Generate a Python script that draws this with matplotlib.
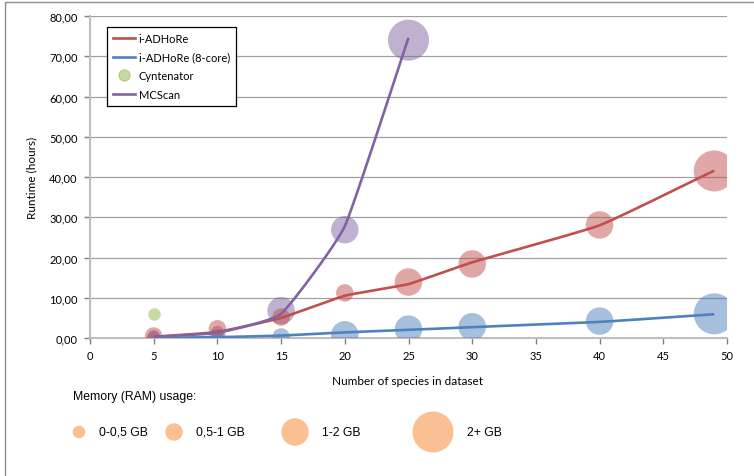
import numpy as np
import matplotlib.pyplot as plt
from matplotlib.lines import Line2D
from matplotlib.patches import Circle

# number of species per run
species = [5, 10, 15, 20, 25, 30, 40, 49]
species_mcscan = [5, 10, 15, 20, 25]
species_cyntenator = [5]

# measured runtimes in hours (bubble centres)
iadhore_runtime = [0.5, 2.3, 5.2, 11.2, 13.9, 18.4, 28.1, 41.5]
iadhore8_runtime = [0.1, 0.1, 0.25, 0.8, 2.2, 2.8, 4.2, 6.0]
mcscan_runtime = [0.4, 1.5, 6.8, 26.9, 74.0]
cyntenator_runtime = [6.0]

# smoothed trend lines
iadhore_trend = [0.3, 1.5, 5.0, 10.5, 13.4, 18.8, 28.0, 41.6]
iadhore8_trend = [0.0, 0.2, 0.6, 1.4, 2.0, 2.7, 4.0, 5.9]
mcscan_trend = [0.3, 1.3, 6.0, 27.8, 74.6]

# memory class of each run: 0 = 0-0,5 GB, 1 = 0,5-1 GB, 2 = 1-2 GB, 3 = 2+ GB
iadhore_mem = [1, 1, 1, 1, 2, 2, 2, 3]
iadhore8_mem = [0, 1, 1, 2, 2, 2, 2, 3]
mcscan_mem = [0, 0, 2, 2, 3]
cyntenator_mem = [0]

memory_labels = ['0-0,5 GB', '0,5-1 GB', '1-2 GB', '2+ GB']
y_ticks = [0, 10, 20, 30, 40, 50, 60, 70, 80]
x_ticks = [0, 5, 10, 15, 20, 25, 30, 35, 40, 45, 50]

W, H = 754, 477
DPI = 100
bubble_px = [12.5, 17.5, 27.5, 41]  # bubble diameter per memory class


def smooth(xs, ys, n=30, c=0.4):
    # cardinal spline through the points (gentle, like Excel's smoothed lines)
    p = np.column_stack([xs, ys]).astype(float)
    m = np.zeros_like(p)
    m[1:-1] = c * (p[2:] - p[:-2]) / 2
    m[0] = c * (p[1] - p[0])
    m[-1] = c * (p[-1] - p[-2])
    t = np.linspace(0, 1, n)[:, None]
    h00 = 2 * t ** 3 - 3 * t ** 2 + 1
    h10 = t ** 3 - 2 * t ** 2 + t
    h01 = -2 * t ** 3 + 3 * t ** 2
    h11 = t ** 3 - t ** 2
    out = [h00 * p[i] + h10 * m[i] + h01 * p[i + 1] + h11 * m[i + 1] for i in range(len(p) - 1)]
    out = np.vstack(out)
    return out[:, 0], out[:, 1]


def sizes(mem):
    return [(bubble_px[m] * 72 / DPI) ** 2 for m in mem]


red, blue, purple, green = '#C0504D', '#4F81BD', '#8064A2', '#9BBB59'
plt.rcParams['font.family'] = ['Lato', 'DejaVu Sans']

fig = plt.figure(figsize=(W / DPI, H / DPI), dpi=DPI)
ax = fig.add_axes([90 / W, 1 - 339 / H, (727 - 90) / W, (339 - 17) / H])

# bubbles
ax.scatter(species_cyntenator, cyntenator_runtime, s=sizes(cyntenator_mem), color=green, alpha=0.55, lw=0, zorder=3)
ax.scatter(species, iadhore8_runtime, s=sizes(iadhore8_mem), color=blue, alpha=0.5, lw=0, zorder=3)
ax.scatter(species_mcscan, mcscan_runtime, s=sizes(mcscan_mem), color=purple, alpha=0.5, lw=0, zorder=3)
ax.scatter(species, iadhore_runtime, s=sizes(iadhore_mem), color=red, alpha=0.5, lw=0, zorder=3)

# trend lines
for xs, ys, c in [(species, iadhore_trend, red), (species, iadhore8_trend, blue),
                  (species_mcscan, mcscan_trend, purple)]:
    sx, sy = smooth(xs, ys)
    ax.plot(sx, sy, color=c, lw=1.9, solid_capstyle='butt', zorder=4)

ax.set_xlim(0, 50)
ax.set_ylim(0, 80)
ax.set_xticks(x_ticks)
ax.set_yticks(y_ticks)
ax.set_yticklabels([f'{v:.2f}'.replace('.', ',') for v in y_ticks])
ax.tick_params(labelsize=8, colors='#7f7f7f', labelcolor='black', length=4, width=1)
ax.tick_params(axis='y', pad=5)
ax.tick_params(axis='x', pad=5)
ax.grid(axis='y', color='#a0a0a0', lw=0.9)
ax.set_axisbelow(True)
for side in ['top', 'right']:
    ax.spines[side].set_visible(False)
for side in ['left', 'bottom']:
    ax.spines[side].set_color('#bfbfbf')
    ax.spines[side].set_linewidth(1.5)

ax.set_ylabel('Runtime (hours)', fontsize=8.5)
ax.yaxis.set_label_coords(37 / W, 1 - 178 / H, transform=fig.transFigure)
fig.text(408 / W, 1 - 382 / H, 'Number of species in dataset', fontsize=8.5, ha='center', va='center')

handles = [Line2D([], [], color=red, lw=1.9),
           Line2D([], [], color=blue, lw=1.9),
           Line2D([], [], color=green, alpha=0.55, lw=0, marker='o', markersize=8),
           Line2D([], [], color=purple, lw=1.9)]
leg = fig.legend(handles, ['i-ADHoRe', 'i-ADHoRe (8-core)', 'Cyntenator', 'MCScan'],
                 loc='upper left', bbox_to_anchor=(107 / W, 1 - 28 / H), fontsize=8,
                 fancybox=False, edgecolor='black', framealpha=1, handlelength=2.0,
                 handletextpad=0.3, labelspacing=0.68, borderpad=0.55, borderaxespad=0)
leg.get_frame().set_linewidth(0.9)

# overlay in pixel units for the outer frame and the memory key
ov = fig.add_axes([0, 0, 1, 1])
ov.set_xlim(0, W)
ov.set_ylim(H, 0)
ov.axis('off')
ov.plot([5, 5, W], [H, 3, 3], color='#8c8c8c', lw=1)

ov.text(73, 397, 'Memory (RAM) usage:', fontsize=8.8, family=['Liberation Sans'], va='center')
key_x = [79, 174, 295, 433]
text_x = [99, 196, 322, 467]
for m, label in enumerate(memory_labels):
    ov.add_patch(Circle((key_x[m], 433), bubble_px[m] / 2, color='#FBBF94', lw=0))
    ov.text(text_x[m], 433, label, fontsize=8.8, family=['Liberation Sans'], va='center')

fig.savefig('out.png', dpi=DPI)
